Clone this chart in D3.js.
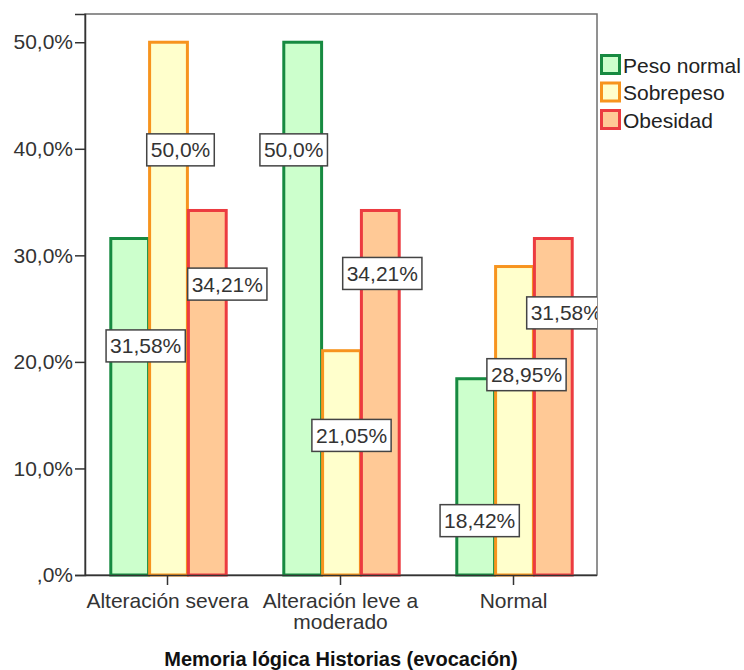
<!DOCTYPE html>
<html>
<head>
<meta charset="utf-8">
<script src="https://cdn.jsdelivr.net/npm/d3@7"></script>
<style>
  html, body { margin: 0; padding: 0; background: #fff; }
  svg { display: block; font-family: Arial, "Liberation Sans", sans-serif; }
</style>
</head>
<body>
<svg id="chart" width="744" height="670"></svg>
<script>
// Memoria lógica Historias (evocación) by weight group, percent of each group
const categories = ["Alteración severa", "Alteración leve a moderado", "Normal"];
const categoryLines = [["Alteración severa"], ["Alteración leve a", "moderado"], ["Normal"]];
const series = ["Peso normal", "Sobrepeso", "Obesidad"];
const pesoNormal = [31.58, 50.0, 18.42];
const sobrepeso = [50.0, 21.05, 28.95];
const obesidad = [34.21, 34.21, 31.58];
const yTicks = [0, 10, 20, 30, 40, 50];
const axisTitle = "Memoria lógica Historias (evocación)";

// label anchors: vertical position (in %) and horizontal shift (px) relative to bar centre
const labelY = [[21.5, 39.9, 27.3], [39.9, 13.1, 28.3], [5.1, 18.8, 24.6]];
const labelDx = [[17, 13, 21], [-8, 11, 3], [5, 13, 14]];

const seriesValues = [pesoNormal, sobrepeso, obesidad];
const strokeColors = ["#178a41", "#f7941e", "#ec3b40"];
const fillColors = ["#ccffcc", "#ffffcc", "#ffc996"];

const svg = d3.select("#chart");
const plot = { left: 85, right: 597, top: 14, bottom: 575 };
const fontSize = 21;

const y = d3.scaleLinear().domain([0, 52.65]).range([plot.bottom, plot.top]);
const x0 = d3.scaleBand().domain(categories).range([81, 600]).paddingInner(0.327).paddingOuter(0.1635);
const x1 = d3.scaleBand().domain(series).range([0, x0.bandwidth()]);

const fmt = v => (v === 0 ? ",0%" : d3.format(".1f")(v).replace(".", ",") + "%");
const fmtLabel = v => {
  const s = Number.isInteger(v) ? d3.format(".1f")(v) : d3.format(".2f")(v);
  return s.replace(".", ",") + "%";
};

svg.append("defs").append("clipPath").attr("id", "plotClip")
  .append("rect")
  .attr("x", plot.left).attr("y", plot.top)
  .attr("width", plot.right - plot.left).attr("height", plot.bottom - plot.top);

// frame
svg.append("rect")
  .attr("x", plot.left).attr("y", plot.top)
  .attr("width", plot.right - plot.left).attr("height", plot.bottom - plot.top)
  .attr("fill", "none").attr("stroke", "#6e6e6e").attr("stroke-width", 1.5);

// bars
const groups = svg.append("g").selectAll("g")
  .data(categories)
  .join("g")
  .attr("transform", d => `translate(${x0(d)},0)`);

groups.selectAll("rect")
  .data((c, ci) => series.map((s, si) => ({ s, si, ci, v: seriesValues[si][ci] })))
  .join("rect")
  .attr("x", d => x1(d.s) + 1.5)
  .attr("width", x1.bandwidth() - 1)
  .attr("y", d => y(d.v))
  .attr("height", d => y(0) - y(d.v))
  .attr("fill", d => fillColors[d.si])
  .attr("stroke", d => strokeColors[d.si])
  .attr("stroke-width", 3);

// axes
const yAxis = d3.axisLeft(y).tickValues(yTicks).tickFormat(fmt).tickSize(10).tickPadding(2);
svg.append("g")
  .attr("transform", `translate(${plot.left},0)`)
  .call(yAxis)
  .call(g => g.select(".domain").attr("stroke", "#333").attr("stroke-width", 1.5))
  .call(g => g.selectAll(".tick line").attr("stroke", "#333").attr("stroke-width", 1.5))
  .call(g => g.selectAll(".tick text").attr("fill", "#333").attr("font-size", fontSize).attr("font-family", null));

const xAxis = d3.axisBottom(x0).tickSize(10).tickFormat("");
svg.append("g")
  .attr("transform", `translate(0,${plot.bottom})`)
  .call(xAxis)
  .call(g => g.select(".domain").attr("d", `M${plot.left},0.5H${plot.right}`).attr("stroke", "#333").attr("stroke-width", 1.5))
  .call(g => g.selectAll(".tick line").attr("stroke", "#333").attr("stroke-width", 1.5));

// category labels
const catText = svg.append("g").selectAll("text")
  .data(categories)
  .join("text")
  .attr("x", d => x0(d) + x0.bandwidth() / 2)
  .attr("y", 608)
  .attr("text-anchor", "middle")
  .attr("font-size", fontSize)
  .attr("fill", "#333");
catText.selectAll("tspan")
  .data((d, i) => categoryLines[i])
  .join("tspan")
  .attr("x", function () { return d3.select(this.parentNode).attr("x"); })
  .attr("dy", (d, i) => (i === 0 ? 0 : 21))
  .text(d => d);

// axis title
svg.append("text")
  .attr("x", 341)
  .attr("y", 666)
  .attr("text-anchor", "middle")
  .attr("font-size", 20)
  .attr("font-weight", "bold")
  .attr("fill", "#111")
  .text(axisTitle);

// value labels
const labels = svg.append("g").attr("clip-path", "url(#plotClip)");
categories.forEach((c, ci) => {
  series.forEach((s, si) => {
    const v = seriesValues[si][ci];
    const cx = x0(c) + x1(s) + x1.bandwidth() / 2 + labelDx[ci][si];
    const cy = y(labelY[ci][si]);
    const g = labels.append("g");
    const t = g.append("text")
      .attr("x", cx).attr("y", cy)
      .attr("text-anchor", "middle")
      .attr("dominant-baseline", "central")
      .attr("font-size", fontSize)
      .attr("fill", "#333")
      .text(fmtLabel(v));
    const w = t.node().getComputedTextLength() + 8;
    g.insert("rect", "text")
      .attr("x", cx - w / 2).attr("y", cy - 16)
      .attr("width", w).attr("height", 32)
      .attr("fill", "#fff").attr("stroke", "#444").attr("stroke-width", 1.5);
  });
});

// legend
const legend = svg.append("g").attr("transform", "translate(600,54)");
const item = legend.selectAll("g")
  .data(series)
  .join("g")
  .attr("transform", (d, i) => `translate(0,${i * 27.5})`);
item.append("rect")
  .attr("x", 1.5).attr("y", 1.5)
  .attr("width", 18).attr("height", 18)
  .attr("fill", (d, i) => fillColors[i])
  .attr("stroke", (d, i) => strokeColors[i])
  .attr("stroke-width", 3);
item.append("text")
  .attr("x", 23).attr("y", 11)
  .attr("dominant-baseline", "central")
  .attr("font-size", fontSize)
  .attr("fill", "#222")
  .text(d => d);
</script>
</body>
</html>
